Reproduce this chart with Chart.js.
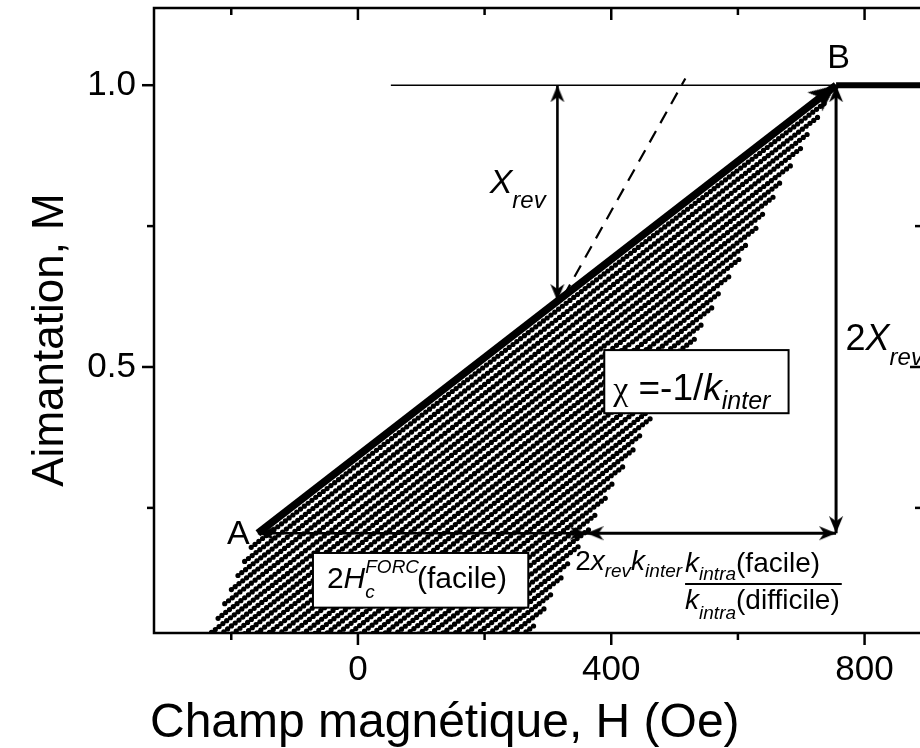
<!DOCTYPE html>
<html>
<head>
<meta charset="utf-8">
<script src="https://cdn.jsdelivr.net/npm/chart.js@4.4.0/dist/chart.umd.min.js"></script>
<style>
  html, body { margin: 0; padding: 0; background: #fff; overflow: hidden; }
  #wrap { width: 940px; height: 748px; }
</style>
</head>
<body>
<div id="wrap"><canvas id="c" width="940" height="748"></canvas></div>
<script>
const FONT = '"Liberation Sans", Arial, sans-serif';
const NARROW = '"Liberation Sans Narrow", "Liberation Sans", Arial, sans-serif';

// axes (H in Oe, M normalised)
const xRange = [-322, 897];
const yRange = [0.028, 1.137];
const xMajorTicks = [0, 400, 800];
const xMinorTicks = [-200, 200, 600];
const yMajorTicks = [0.5, 1.0];
const yMinorTicks = [0.25, 0.75];

// main construction
const abH = [-158, 755];          // A -> B, slope chi = -1/k_inter
const abM = [0.205, 1.0];
const satH = [755, 897];          // saturation after B
const satM = [1.0, 1.0];
const refH = [52, 755];           // thin line at M = 1
const refM = [1.0, 1.0];
const dashH = [325, 517];         // reversible slope
const dashM = [0.626, 1.012];
const xrevH = [315, 315];         // x_rev arrow
const xrevM = [1.0, 0.617];
const vertH = [755, 755];         // 2x_rev arrow
const vertM = [1.0, 0.205];
const hc1H = [-158, 361];         // 2Hc FORC (facile)
const hc2H = [361, 755];          // 2x_rev k_inter ...
const horizM = [0.205, 0.205];

// FORC curves: reversal point -> end on the ascending branch
const forcStartH = [-168.5, -178.9, -189.4, -199.8, -210.3, -220.8, -231.2, -241.7, -252.1, -262.6,
  -273.1, -283.5, -294.0, -304.4, -314.9, -325.4, -335.8, -346.3, -356.7, -367.2, -377.7, -388.1,
  -398.6, -409.0, -419.5, -430.0, -440.4, -450.9, -461.3, -471.8, -482.3, -492.7, -503.2, -513.6, -524.1];
const forcStartM = [0.180, 0.155, 0.130, 0.105, 0.080, 0.054, 0.029, 0.004, -0.021, -0.046,
  -0.071, -0.096, -0.121, -0.146, -0.172, -0.197, -0.222, -0.247, -0.272, -0.297, -0.322, -0.347,
  -0.372, -0.397, -0.423, -0.448, -0.473, -0.498, -0.523, -0.548, -0.573, -0.598, -0.623, -0.648, -0.674];
const forcEndH = [741.1, 727.1, 713.2, 699.3, 685.4, 671.4, 657.5, 643.6, 629.6, 615.7,
  601.8, 587.8, 573.9, 560.0, 546.1, 532.1, 518.2, 504.3, 490.3, 476.4, 462.5, 448.5,
  434.6, 420.7, 406.8, 392.8, 378.9, 365.0, 351.0, 337.1, 323.2, 309.2, 295.3, 281.4, 267.5];
const forcEndM = [0.972, 0.944, 0.916, 0.888, 0.859, 0.831, 0.803, 0.775, 0.747, 0.719,
  0.691, 0.662, 0.634, 0.606, 0.578, 0.550, 0.522, 0.494, 0.466, 0.437, 0.409, 0.381,
  0.353, 0.325, 0.297, 0.269, 0.241, 0.212, 0.184, 0.156, 0.128, 0.100, 0.072, 0.044, 0.016];

// annotation anchors (data coords)
const chiBoxH = [389, 680], chiBoxM = [0.530, 0.418];
const hcBoxH = [-71, 269], hcBoxM = [0.170, 0.073];
const labelA = [-171, 0.186];
const labelB = [759, 1.031];
const labelXrev = [208, 0.809];
const label2Xrev = [770, 0.530];
const labelChi = [403, 0.441];
const labelHc = [-49, 0.108];
const labelFormula = [343, 0.140];

// arrow head sprite, tip at the centre so it sits on the line end
function arrowHead(len, half, notch) {
  const c = document.createElement("canvas");
  c.width = half * 2 + 2;
  c.height = len * 2;
  const g = c.getContext("2d");
  const cx = c.width / 2;
  g.fillStyle = "#000";
  g.beginPath();
  g.moveTo(cx, len);
  g.lineTo(cx + half, 2 * len);
  g.lineTo(cx, 2 * len - notch);
  g.lineTo(cx - half, 2 * len);
  g.closePath();
  g.fill();
  return c;
}
const headSmall = arrowHead(17, 7, 5);
const headBig = arrowHead(27, 12, 7);

const pts = (hs, ms) => hs.map((h, i) => ({ x: h, y: ms[i] }));

function arrow(hs, ms, width, rot, head, radius) {
  return {
    data: pts(hs, ms), showLine: true, borderColor: "#000", borderWidth: width,
    pointStyle: head, pointRadius: radius, pointRotation: rot, pointBackgroundColor: "#000",
    pointBorderWidth: 0, borderCapStyle: "butt",
  };
}

// first dataset is painted last (on top)
const datasets = [
  arrow(abH, abM, 7.5, [0, 52], headBig, [0, 8]),
  arrow(vertH, vertM, 3, [0, 180], headSmall, [5, 5]),
  arrow(xrevH, xrevM, 2.6, [0, 180], headSmall, [5, 5]),
  arrow(hc1H, horizM, 2.6, [270, 90], headSmall, [5, 5]),
  arrow(hc2H, horizM, 3, [270, 90], headSmall, [5, 5]),
  { data: pts(satH, satM), showLine: true, borderColor: "#000", borderWidth: 6, pointRadius: 0 },
  { data: pts(refH, refM), showLine: true, borderColor: "#000", borderWidth: 1.5, pointRadius: 0 },
  { data: pts(dashH, dashM), showLine: true, borderColor: "#000", borderWidth: 2.2, borderDash: [13, 9], pointRadius: 0 },
];
forcStartH.forEach((h, i) => {
  datasets.push({
    data: [{ x: h, y: forcStartM[i] }, { x: forcEndH[i], y: forcEndM[i] }],
    showLine: true, borderColor: "#000", borderWidth: 5.2, borderDash: [0, 4.8],
    borderCapStyle: "round", pointRadius: 0, clip: 0,
  });
});

// frame with ticks on all four sides (out on left/bottom, in on top/right)
const framePlugin = {
  id: "frame",
  afterDatasetsDraw(chart) {
    const { ctx, chartArea: a, scales: { x, y } } = chart;
    ctx.save();
    ctx.strokeStyle = "#000";
    ctx.lineWidth = 2.5;
    ctx.strokeRect(a.left, a.top, a.right - a.left, a.bottom - a.top);
    const tick = (x0, y0, x1, y1) => { ctx.beginPath(); ctx.moveTo(x0, y0); ctx.lineTo(x1, y1); ctx.stroke(); };
    [[xMajorTicks, 12], [xMinorTicks, 7]].forEach(([vals, len]) => vals.forEach((v) => {
      const p = x.getPixelForValue(v);
      tick(p, a.bottom, p, a.bottom + len);
      tick(p, a.top, p, a.top + len);
    }));
    [[yMajorTicks, 12], [yMinorTicks, 7]].forEach(([vals, len]) => vals.forEach((v) => {
      const p = y.getPixelForValue(v);
      tick(a.left - len, p, a.left, p);
      tick(a.right - len - 4, p, a.right, p);
    }));
    ctx.restore();
  },
};

// rich text: runs of [text, size, italic, dy, advance]
function runs(ctx, x0, y0, list, family) {
  let cx = x0;
  list.forEach(([t, size, it, dy, adv]) => {
    ctx.font = (it ? "italic " : "") + size + "px " + (family || FONT);
    ctx.fillText(t, cx, y0 + (dy || 0));
    if (adv !== false) cx += ctx.measureText(t).width;
  });
  return cx;
}

const labelPlugin = {
  id: "labels",
  afterDatasetsDraw(chart) {
    const { ctx, chartArea: a, scales: { x, y } } = chart;
    const px = (h) => x.getPixelForValue(h);
    const py = (m) => y.getPixelForValue(m);
    ctx.save();
    ctx.textBaseline = "alphabetic";

    [[chiBoxH, chiBoxM], [hcBoxH, hcBoxM]].forEach(([hs, ms]) => {
      const x0 = px(hs[0]), x1 = px(hs[1]), y0 = py(ms[0]), y1 = py(ms[1]);
      ctx.fillStyle = "#fff";
      ctx.fillRect(x0, y0, x1 - x0, y1 - y0);
      ctx.strokeStyle = "#000";
      ctx.lineWidth = 2;
      ctx.strokeRect(x0, y0, x1 - x0, y1 - y0);
    });

    ctx.fillStyle = "#000";
    ctx.font = "34px " + FONT;
    ctx.textAlign = "right";
    ctx.fillText("A", px(labelA[0]), py(labelA[1]));
    ctx.textAlign = "center";
    ctx.fillText("B", px(labelB[0]), py(labelB[1]));
    ctx.textAlign = "left";

    runs(ctx, px(labelXrev[0]), py(labelXrev[1]), [["X", 34, true], ["rev", 24, true, 15]]);
    runs(ctx, px(label2Xrev[0]), py(label2Xrev[1]), [["2", 36], ["X", 36, true], ["rev", 24, true, 15]]);

    let cx = runs(ctx, px(labelChi[0]), py(labelChi[1]), [["\u03c7", 34, false, 0]], '"Liberation Serif", serif');
    runs(ctx, cx, py(labelChi[1]), [[" =-1/", 37], ["k", 37, true], ["inter", 25, true, 9]]);

    runs(ctx, px(labelHc[0]), py(labelHc[1]), [
      ["2", 30], ["H", 30, true], ["FORC", 19, true, -15, false], ["c", 19, true, 10], ["        ", 19], ["(facile)", 30],
    ]);

    // 2 x_rev k_inter * k_intra(facile) / k_intra(difficile)
    const fy = py(labelFormula[1]);
    cx = runs(ctx, px(labelFormula[0]), fy, [["2", 28], ["x", 28, true], ["rev", 19, true, 7], ["k", 28, true], ["inter", 19, true, 7]]);
    const bx = cx + 3;
    const nEnd = runs(ctx, bx, fy + 2, [["k", 28, true], ["intra", 19, true, 8], ["(facile)", 28]]);
    const dEnd = runs(ctx, bx, fy + 39, [["k", 28, true], ["intra", 19, true, 10], ["(difficile)", 28]]);
    ctx.strokeStyle = "#000";
    ctx.lineWidth = 2;
    ctx.beginPath();
    ctx.moveTo(bx, fy + 14);
    ctx.lineTo(Math.max(nEnd, dEnd) + 2, fy + 14);
    ctx.stroke();

    // axis titles
    ctx.font = "48px " + FONT;
    ctx.textAlign = "left";
    ctx.fillText("Champ magn\u00e9tique, H (Oe)", a.left - 4, 737);
    ctx.translate(63, 340);
    ctx.rotate(-Math.PI / 2);
    ctx.textAlign = "center";
    ctx.font = "44px " + FONT;
    ctx.fillText("Aimantation, M", 0, 0);
    ctx.restore();
  },
};

new Chart(document.getElementById("c"), {
  type: "scatter",
  data: { datasets },
  options: {
    responsive: false,
    animation: false,
    events: [],
    layout: { padding: { left: 0, right: 14, top: 8, bottom: 0 } },
    plugins: { legend: { display: false }, tooltip: { enabled: false } },
    scales: {
      x: {
        type: "linear", min: xRange[0], max: xRange[1],
        afterBuildTicks: (s) => { s.ticks = xMajorTicks.map((v) => ({ value: v })); },
        afterFit: (s) => { s.height = 115; s.paddingLeft = 0; s.paddingRight = 0; },
        grid: { display: true, drawOnChartArea: false, drawTicks: true, tickLength: 12, color: "rgba(0,0,0,0)" },
        border: { display: false },
        ticks: { color: "#000", font: { family: NARROW, size: 35 }, padding: 4, maxRotation: 0, autoSkip: false, callback: (v) => String(v) },
      },
      y: {
        type: "linear", min: yRange[0], max: yRange[1],
        afterBuildTicks: (s) => { s.ticks = yMajorTicks.map((v) => ({ value: v })); },
        afterFit: (s) => { s.width = 154; s.paddingTop = 0; s.paddingBottom = 0; },
        grid: { display: true, drawOnChartArea: false, drawTicks: true, tickLength: 12, color: "rgba(0,0,0,0)" },
        border: { display: false },
        ticks: { color: "#000", font: { family: FONT, size: 35 }, padding: 6, autoSkip: false, callback: (v) => v.toFixed(1) },
      },
    },
  },
  plugins: [framePlugin, labelPlugin],
});
</script>
</body>
</html>
